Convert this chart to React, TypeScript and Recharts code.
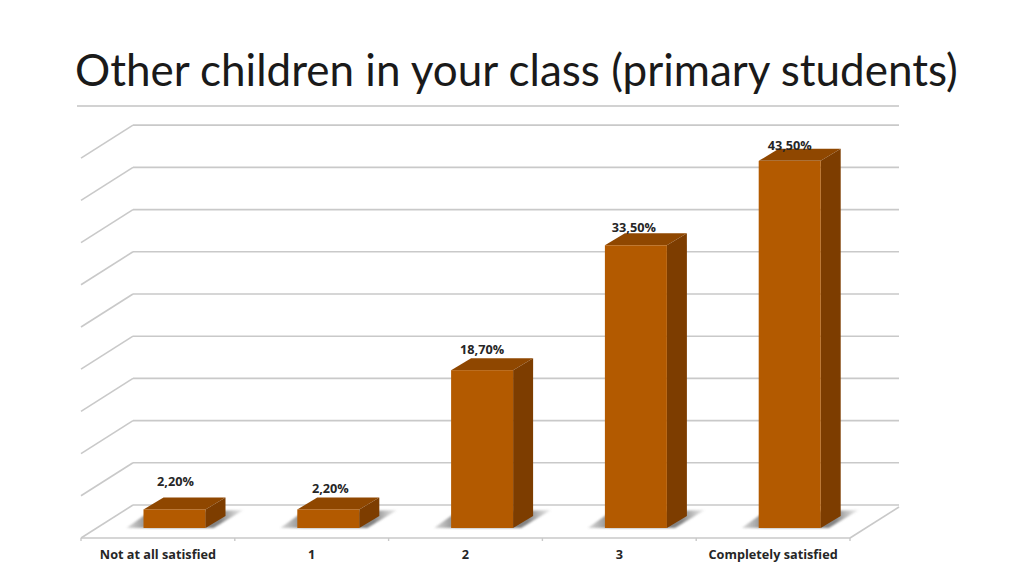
import React from "react";
import { BarChart, Bar, XAxis, YAxis, CartesianGrid, LabelList } from "recharts";

const titleText = "Other children in your class (primary students)";
const categories = ["Not at all satisfied", "1", "2", "3", "Completely satisfied"];
const satisfaction = [2.2, 2.2, 18.7, 33.5, 43.5];
const wallTicks = [0, 5, 10, 15, 20, 25, 30, 35, 40, 45];
const labelNudgeX = [1, 2, 0, -2, 0];
const labelLift = [23, 16, 16, 13, 11];

const rows = categories.map((name, i) => ({ name, value: satisfaction[i] }));

const DEPTH_X = 20;
const DEPTH_Y = 12;
const SHIFT = 16.5;
const FRONT = "#B35A00";
const TOP = "#8F4700";
const SIDE = "#7D3D00";
const GRID = "#c9c9c9";
const FONT = "'Open Sans', sans-serif";

function Bar3D(props: any) {
  const { x, y, width, height } = props;
  const l = x + SHIFT;
  const r = l + width;
  const b = y + height;
  return (
    <g>
      <polygon
        points={`${l - 17},${b} ${l + 4},${b - 15} ${r + 38},${b - 18} ${r + 8},${b}`}
        fill="url(#floorShadow)"
        filter="url(#soft)"
      />
      <polygon points={`${l},${y} ${l + DEPTH_X},${y - DEPTH_Y} ${r + DEPTH_X},${y - DEPTH_Y} ${r},${y}`} fill={TOP} />
      <polygon points={`${r},${y} ${r + DEPTH_X},${y - DEPTH_Y} ${r + DEPTH_X},${b - DEPTH_Y} ${r},${b}`} fill={SIDE} />
      <rect x={l} y={y} width={width} height={height} fill={FRONT} />
    </g>
  );
}

function WallLine(props: any) {
  const { x1, y1, x2, y2 } = props;
  const isFloor = Math.abs(y1 - 505) < 3;
  return (
    <g stroke={GRID} strokeWidth={1.6} fill="none">
      <line x1={x1} y1={y1 + 33} x2={x1 + 52} y2={y1} />
      <line x1={x1 + 52} y1={y1} x2={x2 + 49} y2={y2} />
      {isFloor && <line x1={x2} y1={y1 + 33} x2={x2 + 49} y2={y1 + 2} />}
    </g>
  );
}

function Tick(props: any) {
  const { x, y, payload, index } = props;
  const half = 76.9;
  return (
    <g>
      {index === 0 && <line x1={x - half} y1={y - 8} x2={x - half} y2={y - 5} stroke={GRID} strokeWidth={1.4} />}
      <line x1={x + half} y1={y - 8} x2={x + half} y2={y - 5} stroke={GRID} strokeWidth={1.4} />
      <text x={x} y={y + 13} textAnchor="middle" fontFamily={FONT} fontWeight={700} fontSize={12.7} fill="#262626">
        {payload.value}
      </text>
    </g>
  );
}

function ValueLabel(props: any) {
  const { x, y, width, value, index } = props;
  return (
    <text
      x={x + SHIFT + width / 2 + labelNudgeX[index]}
      y={y - labelLift[index]}
      textAnchor="middle"
      fontFamily={FONT}
      fontWeight={700}
      fontSize={12.7}
      fill="#262626"
    >
      {Number(value).toFixed(2).replace(".", ",") + "%"}
    </text>
  );
}

export default function App() {
  return (
    <div style={{ position: "absolute", left: 0, top: 0, width: 1024, height: 576, background: "#fff", overflow: "hidden" }}>
      <div
        style={{
          position: "absolute",
          left: 75,
          top: 40,
          fontFamily: "Lato, sans-serif",
          fontSize: 44,
          lineHeight: "58px",
          color: "#1a1a1a",
          whiteSpace: "nowrap",
        }}
      >
        {titleText}
      </div>
      <div style={{ position: "absolute", left: 77, top: 105, width: 822, height: 2, background: "#d2d2d2" }} />
      <div style={{ position: "absolute", left: 0, top: 0 }}>
        <BarChart
          width={1024}
          height={576}
          data={rows}
          margin={{ left: 81, right: 174, top: 125, bottom: 0 }}
          barSize={62}
        >
          <defs>
            <linearGradient id="floorShadow" x1="0" y1="0" x2="1" y2="0">
              <stop offset="0" stopColor="#777" stopOpacity={0.25} />
              <stop offset="0.2" stopColor="#777" stopOpacity={0.9} />
              <stop offset="0.8" stopColor="#777" stopOpacity={0.9} />
              <stop offset="1" stopColor="#999" stopOpacity={0.15} />
            </linearGradient>
            <filter id="soft" x="-10%" y="-30%" width="120%" height="160%">
              <feGaussianBlur stdDeviation="1" />
            </filter>
          </defs>
          <XAxis
            dataKey="name"
            axisLine={{ stroke: GRID, strokeWidth: 1.6 }}
            tickLine={false}
            height={38}
            interval={0}
            tick={<Tick />}
          />
          <YAxis yAxisId="bars" hide type="number" domain={[-1.185, 47.75]} allowDataOverflow />
          <YAxis yAxisId="wall" hide type="number" domain={[-3.91, 45.02]} allowDataOverflow />
          <CartesianGrid
            yAxisId="wall"
            vertical={false}
            horizontalValues={wallTicks}
            horizontal={(p: any) => <WallLine key={p.key} {...p} />}
          />
          <Bar yAxisId="bars" dataKey="value" shape={<Bar3D />} isAnimationActive={false}>
            <LabelList dataKey="value" content={<ValueLabel />} />
          </Bar>
        </BarChart>
      </div>
    </div>
  );
}
